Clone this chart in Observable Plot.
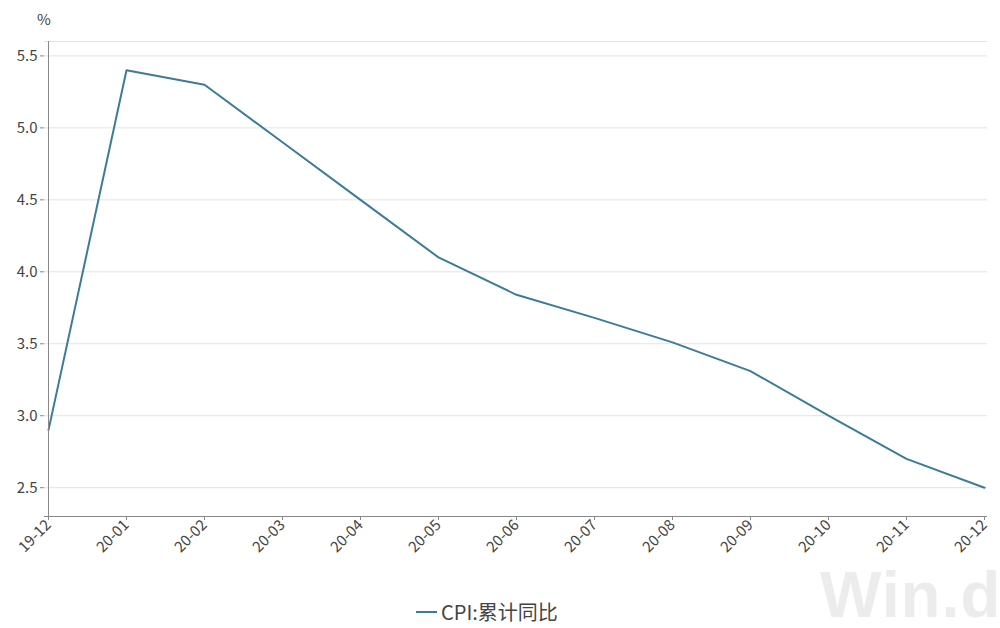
<!DOCTYPE html>
<html>
<head>
<meta charset="utf-8">
<script src="https://cdn.jsdelivr.net/npm/d3@7"></script>
<script src="https://cdn.jsdelivr.net/npm/@observablehq/plot@0.6"></script>
<style>
  html, body { margin:0; padding:0; background:#fff; overflow:hidden; }
  #wrap { position:relative; width:1000px; height:628px; overflow:hidden; font-family:"Noto Sans CJK SC","Noto Sans",sans-serif; }
  #unit { position:absolute; left:37px; top:8px; font-size:15px; color:#444; }
  #chart { position:absolute; left:0; top:0; }
  #legend { position:absolute; left:416px; top:598px; font-size:20px; line-height:28px; color:#444; display:flex; align-items:center; }
  #legend .sw { width:21px; height:2px; background:#3b7c96; margin-right:4px; }
  #wm { position:absolute; left:820px; top:557px; font-family:"Liberation Sans",Arial,sans-serif; font-weight:bold; font-size:65px; color:#ececec; letter-spacing:1px; white-space:nowrap; }
</style>
</head>
<body>
<div id="wrap">
  <div id="wm">Win.d</div>
  <div id="chart"></div>
  <div id="unit">%</div>
  <div id="legend"><span class="sw"></span><span>CPI:累计同比</span></div>
</div>
<script>
const months = ["19-12","20-01","20-02","20-03","20-04","20-05","20-06","20-07","20-08","20-09","20-10","20-11","20-12"];
const cpiCumYoY = [2.9, 5.4, 5.3, 4.9, 4.5, 4.1, 3.84, 3.68, 3.51, 3.31, 3.0, 2.7, 2.5];
const yTicks = [2.5, 3.0, 3.5, 4.0, 4.5, 5.0, 5.5];
const yDomain = [2.3, 5.6];
const seriesName = "CPI:累计同比";

const data = months.map((m, i) => ({month: m, value: cpiCumYoY[i], series: seriesName}));

const chart = Plot.plot({
  width: 1000,
  height: 580,
  marginLeft: 44,
  marginRight: 13,
  marginTop: 41,
  marginBottom: 64,
  style: {fontFamily: "'Noto Sans CJK SC','Noto Sans',sans-serif", fontSize: "15px", color: "#444", background: "transparent"},
  x: {type: "point", domain: months, padding: 0, range: [44, 987]},
  y: {domain: yDomain, range: [516, 41]},
  marks: [
    Plot.gridY(yTicks, {stroke: "#e3e3e3", strokeOpacity: 1}),
    Plot.ruleY([yDomain[1]], {stroke: "#e3e3e3"}),
    Plot.line(data, {x: "month", y: "value", stroke: "#3b7c96", strokeWidth: 2, curve: "linear"}),
    Plot.ruleX([months[0]], {stroke: "#888"}),
    Plot.ruleY([yDomain[0]], {stroke: "#888"}),
    Plot.axisY({ticks: yTicks, tickFormat: d3.format(".1f"), tickSize: 4, stroke: "#888", label: null, fontSize: 15, fill: "#444", tickPadding: 3}),
    Plot.axisX({tickRotate: -45, tickSize: 4, stroke: "#888", label: null, fontSize: 15, fill: "#444", tickPadding: 2})
  ]
});
document.getElementById("chart").appendChild(chart);
</script>
</body>
</html>
